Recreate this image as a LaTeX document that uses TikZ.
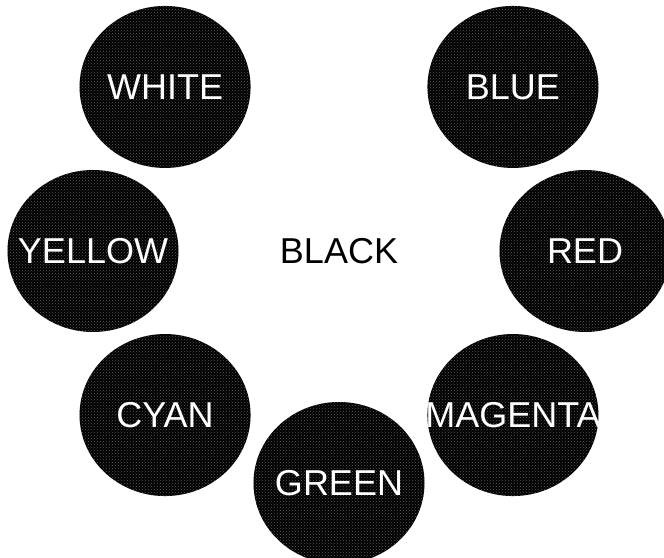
\documentclass[tikz,border=0pt]{standalone}
\usepackage{fontspec}
\setmainfont{Liberation Sans}
\usetikzlibrary{shapes.geometric, patterns}
\definecolor{discfill}{HTML}{000000}
\definecolor{discdots}{HTML}{5A5A5A}
\definecolor{disctext}{HTML}{FFFFFF}

\begin{document}
\begin{tikzpicture}[
  x=1pt, y=1pt,
  font=\fontsize{36}{40}\selectfont,
  disc/.style     = {ellipse, minimum width=171pt, minimum height=162pt, inner sep=0pt,
                     fill=discfill, postaction={pattern=crosshatch dots, pattern color=discdots}},
  disclabel/.style = {text=disctext, inner sep=0pt},
  hub/.style      = {inner sep=0pt},
]
\useasboundingbox (0,0) rectangle (664,557);

%% ---------------------------------------------------------------- centre
\node[hub] (black) at (339,306) {BLACK};

%% ---------------------------------------------------------------- ring
\foreach \ang/\name/\txt in {135/white/WHITE, 45/blue/BLUE, 180/yellow/YELLOW, 0/red/RED,
                             225/cyan/CYAN, 315/magenta/MAGENTA, 270/green/GREEN}
  \node[disc, label={[disclabel]center:\txt}] (\name) at ([shift={(\ang:246 and 232)}]black.center) {};
\end{tikzpicture}
\end{document}
